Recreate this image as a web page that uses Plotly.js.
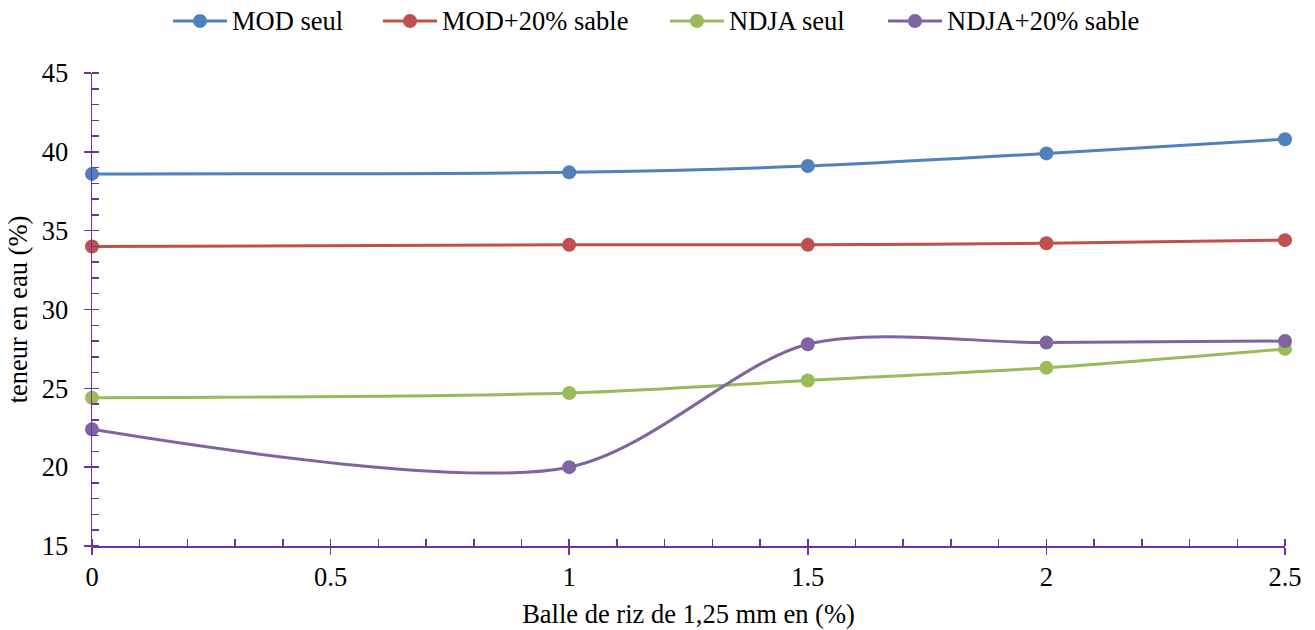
<!DOCTYPE html>
<html>
<head>
<meta charset="utf-8">
<script src="https://cdn.plot.ly/plotly-3.0.1.min.js"></script>
<style>
  html, body { margin: 0; padding: 0; background: #ffffff; }
  #chart { width: 1315px; height: 630px; }
</style>
</head>
<body>
<div id="chart"></div>
<script>
// Rice husk content (%) on the horizontal axis
const balleRiz = [0, 1, 1.5, 2, 2.5];

// Water content (%) for each soil mix
const modSeul = [38.6, 38.7, 39.1, 39.9, 40.8];
const modSable = [34.0, 34.1, 34.1, 34.2, 34.4];
const ndjaSeul = [24.4, 24.7, 25.5, 26.3, 27.5];
const ndjaSable = [22.4, 20.0, 27.8, 27.9, 28.0];

const seriesNames = ['MOD seul', 'MOD+20% sable', 'NDJA seul', 'NDJA+20% sable'];
const seriesValues = [modSeul, modSable, ndjaSeul, ndjaSable];
const seriesColors = ['#4F81BD', '#C0504D', '#9BBB59', '#8064A2'];

const axisColor = '#7030A0';
const fontFamily = 'Liberation Serif, Times New Roman, serif';
const fontSize = 26.5;

const W = 1315, H = 630;
const M = { l: 92, r: 30, t: 73, b: 84 };
const plotW = W - M.l - M.r;
const plotH = H - M.t - M.b;
// pixel -> paper coordinates
const px = v => (v - M.l) / plotW;
const py = v => (H - M.b - v) / plotH;

// Legend row across the top: centre of each entry's sample marker (px)
const legendCenters = [200, 410, 697, 915];
const legendRowY = 21;

const traces = seriesValues.map((vals, i) => ({
  x: balleRiz,
  y: vals,
  name: seriesNames[i],
  type: 'scatter',
  mode: 'lines+markers',
  cliponaxis: false,
  showlegend: false,
  line: { color: seriesColors[i], width: 3, shape: 'spline', smoothing: 0.85 },
  marker: { color: seriesColors[i], size: 14 }
}));

// Invisible helper trace so the mirrored axes (inner half of major ticks) get drawn
traces.push({
  x: [0], y: [15], xaxis: 'x2', yaxis: 'y2',
  mode: 'markers', marker: { opacity: 0 },
  showlegend: false, hoverinfo: 'skip'
});

// Legend built from shapes (sample line + dot) and text annotations
const shapes = [];
const annotations = [];
seriesNames.forEach((name, i) => {
  const c = legendCenters[i];
  shapes.push({
    type: 'line', xref: 'paper', yref: 'paper',
    x0: px(c - 27), x1: px(c + 27), y0: py(legendRowY), y1: py(legendRowY),
    line: { color: seriesColors[i], width: 3 }
  });
  shapes.push({
    type: 'circle', xref: 'paper', yref: 'paper',
    x0: px(c - 7), x1: px(c + 7), y0: py(legendRowY - 7), y1: py(legendRowY + 7),
    fillcolor: seriesColors[i], line: { width: 0 }
  });
  annotations.push({
    xref: 'paper', yref: 'paper',
    x: px(c + 30), y: py(legendRowY),
    xanchor: 'left', yanchor: 'middle',
    text: name, showarrow: false,
    font: { family: fontFamily, size: fontSize, color: '#000000' }
  });
});

const layout = {
  width: W,
  height: H,
  margin: { l: M.l, r: M.r, t: M.t, b: M.b, autoexpand: false },
  paper_bgcolor: '#ffffff',
  plot_bgcolor: '#ffffff',
  font: { family: fontFamily, size: fontSize, color: '#000000' },
  showlegend: false,
  shapes: shapes,
  annotations: annotations,
  xaxis: {
    range: [0, 2.5],
    automargin: true,
    showgrid: false,
    zeroline: false,
    showline: true,
    linecolor: axisColor,
    linewidth: 1.5,
    ticks: 'outside',
    ticklen: 7,
    tickwidth: 1.5,
    tickcolor: axisColor,
    tick0: 0,
    dtick: 0.5,
    ticklabelstandoff: 0,
    tickfont: { family: fontFamily, size: fontSize },
    minor: { ticks: 'inside', dtick: 0.1, tick0: 0, ticklen: 7, tickwidth: 1.5, tickcolor: axisColor, showgrid: false },
    title: { text: 'Balle de riz de 1,25 mm en (%)', font: { family: fontFamily, size: fontSize }, standoff: 13 }
  },
  yaxis: {
    range: [15, 45],
    automargin: true,
    showgrid: false,
    zeroline: false,
    showline: true,
    linecolor: axisColor,
    linewidth: 1.5,
    ticks: 'outside',
    ticklen: 7,
    tickwidth: 1.5,
    tickcolor: axisColor,
    tick0: 15,
    dtick: 5,
    ticklabelstandoff: 10,
    tickfont: { family: fontFamily, size: fontSize },
    minor: { ticks: 'inside', dtick: 1, tick0: 15, ticklen: 7, tickwidth: 1.5, tickcolor: axisColor, showgrid: false },
    title: { text: 'teneur en eau (%)', font: { family: fontFamily, size: fontSize }, standoff: 6 }
  },
  xaxis2: {
    overlaying: 'x',
    range: [0, 2.5],
    side: 'bottom',
    anchor: 'y2',
    showgrid: false, zeroline: false, showline: false,
    ticks: 'inside', ticklen: 7, tickwidth: 1.5, tickcolor: axisColor,
    tick0: 0, dtick: 0.5, showticklabels: false
  },
  yaxis2: {
    overlaying: 'y',
    range: [15, 45],
    side: 'left',
    anchor: 'x2',
    showgrid: false, zeroline: false, showline: false,
    ticks: 'inside', ticklen: 7, tickwidth: 1.5, tickcolor: axisColor,
    tick0: 15, dtick: 5, showticklabels: false
  }
};

Plotly.newPlot('chart', traces, layout, { displayModeBar: false, staticPlot: true });
</script>
</body>
</html>
